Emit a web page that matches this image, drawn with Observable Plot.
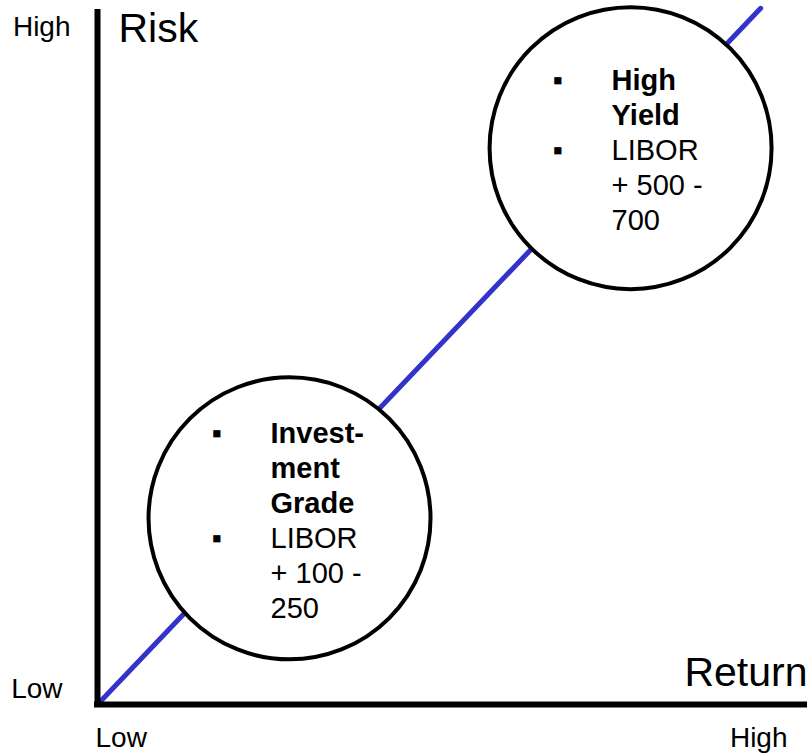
<!DOCTYPE html>
<html>
<head>
<meta charset="utf-8">
<script src="https://cdn.jsdelivr.net/npm/d3@7"></script>
<script src="https://cdn.jsdelivr.net/npm/@observablehq/plot@0.6"></script>
<style>
  html, body { margin: 0; padding: 0; background: #fff; }
  svg { display: block; }
</style>
</head>
<body>
<div id="chart"></div>
<script>
// ---- data ----
const axisEnds = [0, 1];                 // low .. high (normalized)
const tickLabels = ["Low", "High"];
const axisTitles = { x: "Return", y: "Risk" };
const lineReturn = [0, 0.938];           // risk/return trade-off line
const lineRisk = [0, 1.006];
const segmentNames = ["Investment Grade", "High Yield"];
const segReturn = [0.2716, 0.754];
const segRisk = [0.269, 0.804];
const headingLines = [["Invest-", "ment", "Grade"], ["High", "Yield"]];
const spreadLines = [["LIBOR", "+ 100 -", "250"], ["LIBOR", "+ 500 -", "700"]];

// ---- derived tables ----
const linePts = lineReturn.map((x, i) => ({ x, y: lineRisk[i] }));
const segs = segmentNames.map((name, i) => {
  const h = headingLines[i].length, s = spreadLines[i].length;
  return {
    name, x: segReturn[i], y: segRisk[i],
    bold: headingLines[i].join("\n") + "\n".repeat(s),
    regular: "\n".repeat(h) + spreadLines[i].join("\n"),
    bullets: "\u25AA" + "\n".repeat(h) + "\u25AA" + "\n".repeat(s - 1)
  };
});

const font = "Liberation Sans, Arial, Helvetica, sans-serif";
const blue = "#3333cc";
const bodySize = 29, lh = 35 / 29;

const chart = Plot.plot({
  width: 812,
  height: 755,
  margin: 0,
  x: { domain: axisEnds, range: [97, 804], axis: null },
  y: { domain: axisEnds, range: [704, 12], axis: null },
  style: { background: "#fff", fontFamily: font },
  marks: [
    // trade-off line
    Plot.line(linePts, { x: "x", y: "y", stroke: blue, strokeWidth: 5 }),
    // axes
    Plot.ruleX([axisEnds[0]], { y1: axisEnds[0], y2: axisEnds[1], stroke: "#000", strokeWidth: 6, strokeLinecap: "square" }),
    Plot.ruleY([axisEnds[0]], { x1: axisEnds[0], x2: axisEnds[1], stroke: "#000", strokeWidth: 6, strokeLinecap: "square" }),
    // segment circles
    Plot.dot(segs, { x: "x", y: "y", r: 141, fill: "#fff", stroke: "#000", strokeWidth: 4 }),
    Plot.text(segs, { x: "x", y: "y", text: "bold", fontWeight: "bold", fontSize: bodySize, lineHeight: lh, textAnchor: "start", dx: -19, dy: 1, fill: "#000", fontFamily: font }),
    Plot.text(segs, { x: "x", y: "y", text: "regular", fontSize: bodySize, lineHeight: lh, textAnchor: "start", dx: -19, dy: 1, fill: "#000", fontFamily: font }),
    Plot.text(segs, { x: "x", y: "y", text: "bullets", fontSize: bodySize, lineHeight: lh, textAnchor: "middle", dx: -73, dy: 1, fill: "#000", fontFamily: font }),
    // y-axis tick labels
    Plot.text([tickLabels[1]], { x: axisEnds[0], y: axisEnds[1], text: d => d, textAnchor: "end", dx: -27, dy: 15, fontSize: 28, fill: "#000", fontFamily: font }),
    Plot.text([tickLabels[0]], { x: axisEnds[0], y: axisEnds[0], text: d => d, textAnchor: "end", dx: -35, dy: -15, fontSize: 28, fill: "#000", fontFamily: font }),
    // x-axis tick labels
    Plot.text([tickLabels[0]], { x: axisEnds[0], y: axisEnds[0], text: d => d, textAnchor: "start", dx: -2, dy: 34, fontSize: 28, fill: "#000", fontFamily: font }),
    Plot.text([tickLabels[1]], { x: axisEnds[1], y: axisEnds[0], text: d => d, textAnchor: "end", dx: -17, dy: 34, fontSize: 28, fill: "#000", fontFamily: font }),
    // axis titles
    Plot.text([axisTitles.y], { x: axisEnds[0], y: axisEnds[1], text: d => d, textAnchor: "start", dx: 21, dy: 16.6, fontSize: 41, fill: "#000", fontFamily: font }),
    Plot.text([axisTitles.x], { x: axisEnds[1], y: axisEnds[0], text: d => d, textAnchor: "end", dx: 3, dy: -32, fontSize: 41, fill: "#000", fontFamily: font })
  ]
});
document.getElementById("chart").appendChild(chart);
</script>
</body>
</html>
